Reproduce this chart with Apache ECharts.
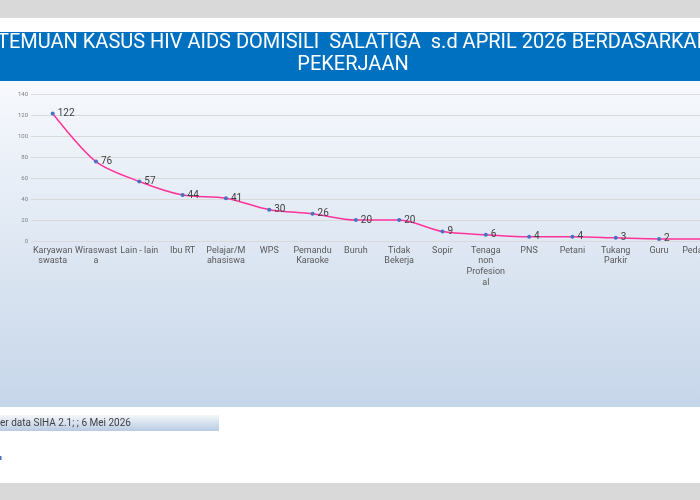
<!DOCTYPE html>
<html><head><meta charset="utf-8">
<script src="https://cdn.jsdelivr.net/npm/echarts@6/dist/echarts.min.js"></script>
<style>html,body{margin:0;padding:0;background:#fff}#c{width:700px;height:500px}</style>
</head><body><div id="c"></div>
<script>
const categories = ["Karyawan\nswasta","Wiraswast\na","Lain - lain","Ibu RT","Pelajar/M\nahasiswa","WPS","Pemandu\nKaraoke","Buruh","Tidak\nBekerja","Sopir","Tenaga\nnon\nProfesion\nal","PNS","Petani","Tukang\nParkir","Guru","Pedagang"];
const values = [122,76,57,44,41,30,26,20,20,9,6,4,4,3,2,2];
const yTicks = {min:0, max:140, interval:20};
const titleLine1 = "TEMUAN KASUS HIV AIDS DOMISILI  SALATIGA  s.d APRIL 2026 BERDASARKAN";
const titleLine2 = "PEKERJAAN";
const sourceText = "er data SIHA 2.1; ; 6 Mei 2026";

const chart = echarts.init(document.getElementById('c'));
chart.setOption({
  animation:false,
  backgroundColor:'#ffffff',
  graphic:[
    {type:'rect',z:-10,shape:{x:0,y:0,width:700,height:18},style:{fill:'#d9d9d9'}},
    {type:'rect',z:-10,shape:{x:0,y:483,width:700,height:17},style:{fill:'#d9d9d9'}},
    {type:'rect',z:-10,shape:{x:0,y:32,width:700,height:49},style:{fill:'#0070c0'}},
    {type:'rect',z:-10,shape:{x:0,y:81,width:700,height:326},style:{fill:new echarts.graphic.LinearGradient(0,0,0,1,[{offset:0,color:'#f7f9fd'},{offset:1,color:'#c6d6e9'}])}},
    {type:'rect',z:-10,shape:{x:0,y:415,width:219,height:16},style:{fill:new echarts.graphic.LinearGradient(0,0,0,1,[{offset:0,color:'#f4f7fb'},{offset:1,color:'#b9cbe2'}])}},
    {type:'text',z:10,x:-3,y:43,style:{text:titleLine1,fill:'#ffffff',font:'20px Roboto',textVerticalAlign:'middle',textAlign:'left'}},
    {type:'text',z:10,x:353,y:65,style:{text:titleLine2,fill:'#ffffff',font:'20px Roboto',textVerticalAlign:'middle',textAlign:'center'}},
    {type:'text',z:10,x:0,y:423,style:{text:sourceText,fill:'#404040',font:'10px Roboto',textVerticalAlign:'middle',textAlign:'left'}},
    {type:'rect',z:10,shape:{x:0,y:456,width:1.5,height:4},style:{fill:'#4472c4'}}
  ],
  grid:{left:31,top:94.7,width:693,height:146.3,containLabel:false,outerBoundsMode:'none'},
  xAxis:{type:'category',data:categories,boundaryGap:true,
    axisLine:{show:false},axisTick:{show:false},
    axisLabel:{interval:0,color:'#595959',fontSize:9,fontFamily:'Roboto',lineHeight:10.7,margin:4}},
  yAxis:{type:'value',min:yTicks.min,max:yTicks.max,interval:yTicks.interval,
    axisLine:{show:false},axisTick:{show:false},
    axisLabel:{color:'#7f7f7f',fontSize:6,fontFamily:'Roboto',margin:3},
    splitLine:{lineStyle:{color:'#d9d9d9',width:1}}},
  series:[{type:'line',data:values,smooth:0.3,
    lineStyle:{color:'#ff3399',width:1.5},
    symbol:'circle',symbolSize:4,itemStyle:{color:'#4472c4'},
    label:{show:true,position:'right',distance:3,color:'#404040',fontSize:10,fontFamily:'Roboto'}}]
});
</script></body></html>
